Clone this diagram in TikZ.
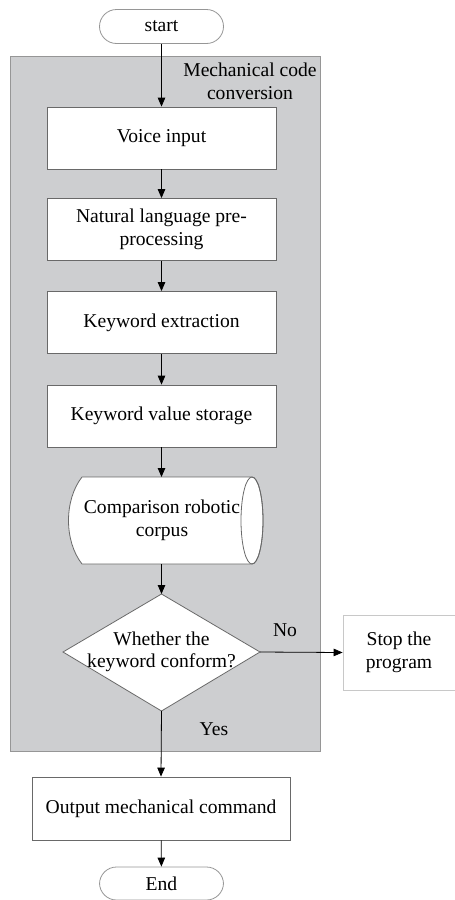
\documentclass[tikz,border=0pt]{standalone}
\usepackage{fontspec}
\setmainfont{Liberation Serif}
\usetikzlibrary{arrows.meta}
\definecolor{regionfill}{RGB}{205,206,208}
\definecolor{regionline}{RGB}{150,150,150}
\definecolor{boxline}{RGB}{105,105,105}
\definecolor{stopline}{RGB}{200,200,200}
\begin{document}
\begin{tikzpicture}[x=1pt,y=-1pt,
  font=\fontsize{19.6}{22.5}\selectfont,
  procbox/.style={draw=boxline, fill=white, line width=0.8pt, minimum width=229pt, minimum height=62pt, align=center, inner sep=2pt},
  termbox/.style={draw=boxline!70, fill=white, line width=0.8pt, rounded corners=17pt, minimum width=124pt, minimum height=34pt, inner sep=0pt},
  flow/.style={line width=0.8pt, -{Triangle[length=9pt,width=7.5pt]}},
  txt/.style={inner sep=0pt, align=center}]
\useasboundingbox (0,0) rectangle (455,900);
% region
\draw[fill=regionfill, draw=regionline, line width=1pt] (10,56) rectangle (320,751);
\node[txt] (reg) at (250,81.5) {Mechanical code\\conversion};
% nodes
\node[termbox] (start) at (161.5,26.5) {start};
\node[procbox] (voice) at (161.5,138) {Voice input};
\node[procbox] (nlp) at (161.5,229.5) {Natural language pre-\\processing};
\node[procbox] (kex) at (161.5,322.5) {Keyword extraction};
\node[procbox] (kvs) at (161.5,416) {Keyword value storage};
% cylinder (stored data)
\draw[fill=white, draw=boxline, line width=0.8pt]
  (252,477) -- (82,477) .. controls (64,500) and (64,541) .. (82,564) -- (252,564)
  arc[start angle=90, end angle=-90, x radius=11pt, y radius=-43.5pt] -- cycle;
\draw[draw=boxline, line width=0.8pt] (252,520.5) ellipse[x radius=11pt, y radius=43.5pt];
\node[txt, minimum width=170pt, minimum height=87pt] (cyl) at (162,520.5) {Comparison robotic\\corpus};
% decision
\coordinate (dtop) at (161.5,594);
\coordinate (dright) at (260,652);
\coordinate (dbot) at (161.5,711);
\coordinate (dleft) at (63,652);
\draw[fill=white, draw=boxline, line width=0.8pt] (dtop) -- (dright) -- (dbot) -- (dleft) -- cycle;
\node[txt] (dec) at (161.5,652) {Whether the\\keyword conform?};
% stop
\node[draw=stopline, fill=white, line width=0.8pt, minimum width=112pt, minimum height=75pt, align=center, inner sep=0pt] (stop) at (399,652.5) {Stop the\\program};
% output and end
\node[procbox, minimum width=258pt, minimum height=63pt] (out) at (161,808.5) {Output mechanical command};
\node[termbox, minimum height=33pt] (end) at (161.5,883.5) {End};
% connectors
\draw[flow] (start) -- (voice);
\draw[flow] (voice) -- (nlp);
\draw[flow] (nlp) -- (kex);
\draw[flow] (kex) -- (kvs);
\draw[flow] (kvs.south) -- (161.5,477);
\draw[flow] (161.5,564) -- (dtop);
\draw[flow] (dright) -- (stop.west);
\draw[flow] (dbot) -- (out.north);
\draw[flow] (out) -- (end);
% labels
\node[txt] (no) at (285,630) {No};
\node[txt] (yes) at (214,729) {Yes};
\end{tikzpicture}
\end{document}
